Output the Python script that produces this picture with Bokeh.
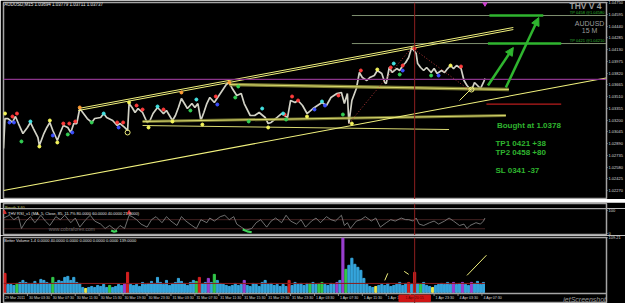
from bokeh.plotting import figure
from bokeh.layouts import column
from bokeh.models import (Range1d, FixedTicker, Span, Arrow, NormalHead, Label,
                          NumeralTickFormatter)
from bokeh.embed import file_html
from bokeh.resources import INLINE
from bokeh.core.properties import value

FONT = "Liberation Sans"

# ---------------- data ----------------
header_text = "AUDUSD,M15  1.03694 1.03779 1.03711 1.03737"
breath_text = "Breath 3.60"
rsi_text = "THV RSI_v1 (MA, 5, Close, 85, 11.7% 80.0000 60.0000 40.0000 21.0000)"
rsi_watermark = "www.cobraforex.com"
vol_text = "Better Volume 1.4  0.0000 40.0000 0.0000 0.0000 0.0000 0.0000 139.0000"
watermark = "jetScreenshot"

# (M15 bar number, price)  bar 0 = 29 Mar 23:45
close_points = [
    (-1, 1.02824), (0, 1.03220), (2, 1.03220), (5, 1.03168), (7, 1.03247), (9, 1.03154),
    (12, 1.03022), (13, 1.03049), (15, 1.03102), (17, 1.03168), (19, 1.03088), (22, 1.02970),
    (23, 1.02864), (26, 1.03022), (28, 1.03102), (30, 1.03168), (32, 1.03062), (35, 1.02930),
    (37, 1.03036), (39, 1.03128), (42, 1.03102), (44, 1.03036), (46, 1.03154), (48, 1.03154),
    (50, 1.03352), (52, 1.03300), (55, 1.03220), (58, 1.03168), (60, 1.03220), (64, 1.03234),
    (66, 1.03286), (68, 1.03234), (72, 1.03194), (75, 1.03128), (77, 1.03154), (80, 1.03102),
    (82, 1.03062), (83, 1.03418), (85, 1.03366), (87, 1.03300), (89, 1.03352), (92, 1.03300),
    (95, 1.03168), (97, 1.03194), (99, 1.03286), (102, 1.03366), (104, 1.03326), (106, 1.03286),
    (108, 1.03326), (112, 1.03194), (114, 1.03260), (116, 1.03366), (118, 1.03484), (120, 1.03418),
    (122, 1.03352), (125, 1.03418), (127, 1.03366), (129, 1.03418), (131, 1.03194), (133, 1.03300),
    (135, 1.03418), (137, 1.03498), (140, 1.03432), (144, 1.03550), (148, 1.03669), (150, 1.03696),
    (152, 1.03616), (155, 1.03524), (158, 1.03550), (160, 1.03418), (164, 1.03260), (167, 1.03260),
    (170, 1.03300), (174, 1.03234), (176, 1.03154), (178, 1.03168), (182, 1.03234), (185, 1.03286),
    (187, 1.03260), (189, 1.03234), (191, 1.03458), (194, 1.03432), (196, 1.03458), (199, 1.03392),
    (202, 1.03286), (206, 1.03352), (209, 1.03392), (212, 1.03432), (215, 1.03392), (218, 1.03498),
    (222, 1.03550), (225, 1.03564), (227, 1.03418), (229, 1.03550), (230, 1.03154), (232, 1.03458),
    (235, 1.03616), (237, 1.03828), (239, 1.03762), (242, 1.03722), (244, 1.03762), (247, 1.03788),
    (249, 1.03854), (252, 1.03814), (254, 1.03696), (255, 1.03682), (257, 1.03894), (259, 1.03828),
    (262, 1.03880), (264, 1.03854), (266, 1.03920), (268, 1.03960), (270, 1.04026), (272, 1.04158),
    (275, 1.04078), (276, 1.03946), (278, 1.03894), (280, 1.03854), (282, 1.03894), (285, 1.03828),
    (287, 1.03880), (289, 1.03814), (292, 1.03854), (294, 1.03828), (296, 1.03880), (298, 1.03920),
    (300, 1.03880), (302, 1.03920), (305, 1.03880), (307, 1.03722), (309, 1.03656), (312, 1.03590),
    (314, 1.03696), (316, 1.03656), (318, 1.03616), (320, 1.03696), (321, 1.03748),
]

time_labels = ["29 Mar 2011", "30 Mar 03:30", "30 Mar 07:30", "30 Mar 11:30", "30 Mar 15:30",
               "30 Mar 19:30", "30 Mar 23:30", "31 Mar 03:30", "31 Mar 07:30", "31 Mar 11:30",
               "31 Mar 15:30", "31 Mar 19:30", "31 Mar 23:30", "1 Apr 03:30", "1 Apr 07:30",
               "1 Apr 11:30", "1 Apr 15:30", "1 Apr 19:30", "1 Apr 23:30", "4 Apr 03:30",
               "4 Apr 07:30"]
bars_per_label = 16

price_ticks = [1.04750, 1.04595, 1.04440, 1.04285, 1.04130, 1.03975, 1.03820, 1.03665,
               1.03510, 1.03355, 1.03200, 1.03045, 1.02890, 1.02735, 1.02580, 1.02425, 1.02270]

bid_price = 1.03737
box_price = 1.03841
tp1_price = 1.0421
tp2_price = 1.0458
sl_price = 1.0341
marker_bar = 274
marker_time = "1 Apr 20:15"

trade_notes = ["Bought at 1.0378", "TP1 0421 +38", "TP2 0458 +80", "SL 0341 -37"]
tp_labels = ["TP 0458 @1.04580", "TP 0421 @1.04210"]
logo_lines = ["THV V 4", "AUDUSD", "15 M"]

# trend lines (bar, price)
upper_a_x, upper_a_y = [49, 340], [1.03352, 1.04422]
upper_b_x, upper_b_y = [49, 340], [1.03326, 1.04395]
lower_x, lower_y = [-1, 402], [1.02270, 1.03755]
supp_top_x, supp_top_y = [150, 337], [1.03669, 1.03603]
supp_mid_x, supp_mid_y = [92, 335], [1.03181, 1.03260]
supp_low_x, supp_low_y = [92, 297], [1.03128, 1.03075]
short_x, short_y = [304, 312], [1.03458, 1.03616]
zig_x, zig_y = [230, 272, 311], [1.03154, 1.04158, 1.03590]
sl_x = [322, 372]
tp_thin_x = [232, 402]
tp2_thick_x = [324, 360]
tp1_thick_x = [323, 372]
arrow1 = (323, 1.03656, 340, 1.04158)
arrow2 = (335, 1.03630, 357, 1.04554)

frac_red = [(5, 1.03247), (8, 1.03286), (39, 1.03154), (43, 1.03154), (47, 1.03181), (75, 1.03168),
            (79, 1.03168), (88, 1.03392), (92, 1.03339), (106, 1.03339), (141, 1.03511), (187, 1.03273),
            (192, 1.03511), (196, 1.03458), (223, 1.03524), (238, 1.03854), (258, 1.03894),
            (266, 1.03920), (274, 1.04144), (305, 1.03907)]
frac_blue = [(3, 1.03168), (6, 1.03168), (32, 1.02996), (45, 1.03036), (76, 1.03102), (142, 1.03405),
             (207, 1.03339), (214, 1.03392), (266, 1.03854), (290, 1.03788)]
frac_cyan = [(17, 1.03181), (66, 1.03286), (102, 1.03379), (128, 1.03471), (172, 1.03352),
             (186, 1.03286), (212, 1.03445), (260, 1.03946)]
frac_green = [(11, 1.02917), (42, 1.03010), (58, 1.03168), (124, 1.03326), (154, 1.03498),
              (156, 1.03643), (163, 1.03181), (188, 1.03207), (226, 1.03273), (264, 1.03801), (285, 1.03788)]
frac_yellow = [(0, 1.03286), (23, 1.02851), (30, 1.03194), (35, 1.02904), (83, 1.03432), (96, 1.03102),
               (112, 1.03181), (132, 1.03141), (176, 1.03102), (202, 1.03247), (232, 1.03154),
               (249, 1.03867), (298, 1.03920)]
frac_orange = [(50, 1.03366), (118, 1.03564), (150, 1.03696)]
ring_points = [(82, 1.03036), (312, 1.03603)]

# RSI (bar, value)
rsi_points = [
    (-1, 67), (3, 79), (6, 60), (9, 73), (11, 22), (14, 54), (17, 73), (20, 47), (24, 79), (27, 54),
    (30, 35), (34, 73), (37, 60), (40, 79), (44, 47), (47, 67), (50, 28), (54, 60), (57, 79), (60, 54),
    (64, 41), (67, 22), (70, 35), (74, 15), (77, 35), (80, 22), (83, 79), (85, 73), (88, 60), (91, 41),
    (95, 28), (98, 60), (101, 73), (105, 47), (108, 73), (111, 54), (115, 35), (118, 73), (121, 54),
    (125, 35), (128, 22), (131, 60), (135, 47), (137, 67), (140, 54), (144, 73), (147, 79), (150, 60),
    (153, 73), (155, 41), (158, 28), (161, 15), (165, 22), (168, 47), (171, 60), (175, 28), (178, 54),
    (181, 67), (185, 47), (188, 79), (191, 54), (195, 41), (198, 60), (201, 28), (205, 54), (208, 67),
    (211, 47), (215, 73), (218, 60), (221, 54), (225, 79), (227, 35), (229, 47), (231, 22), (235, 54),
    (238, 60), (241, 73), (245, 54), (248, 67), (251, 28), (255, 47), (258, 60), (261, 54), (265, 67),
    (268, 60), (270, 60), (273, 54), (275, 67), (277, 41), (280, 35), (284, 47), (287, 54), (290, 41),
    (294, 54), (297, 67), (300, 54), (304, 35), (307, 41), (309, 22), (311, 35), (315, 47), (318, 41),
    (320, 54), (321, 67),
]
rsi_levels = [60, 21]
rsi_signal_a = [(71, 14), (73, 8), (75, 12)]
rsi_signal_b = [(159, 18), (162, 10), (165, 6)]
rsi_arrows = [(-0.5, 92), (83, 90)]

# volume, one bar every 2 M15 bars starting at bar 0
volume = [38, 16, 16, 14, 18, 20, 24, 20, 18, 18,
          22, 16, 26, 24, 20, 18, 30, 20, 24, 22,
          30, 32, 24, 30, 20, 18, 10, 8, 10, 12,
          10, 14, 12, 16, 10, 14, 10, 12, 16, 14,
          18, 40, 16, 14, 16, 12, 20, 16, 18, 22,
          18, 30, 20, 16, 24, 14, 18, 20, 28, 22,
          18, 14, 20, 24, 22, 30, 18, 20, 28, 20,
          36, 24, 18, 16, 14, 12, 14, 18, 14, 16,
          24, 14, 12, 18, 16, 12, 20, 24, 16, 18,
          14, 16, 12, 16, 12, 24, 14, 20, 16, 18,
          14, 18, 18, 20, 16, 18, 20, 16, 14, 18,
          16, 20, 24, 108, 46, 54, 68, 56, 50, 44,
          28, 16, 12, 10, 12, 14, 16, 14, 18, 12,
          14, 16, 20, 14, 18, 20, 16, 40, 18, 16,
          20, 14, 12, 10, 14, 16, 18, 16, 20, 16,
          20, 16, 18, 20, 16, 14, 20, 18, 22, 16,
          20]
vol_step = 2
vol_kind = {0: "climax", 4: "churn", 16: "churn", 27: "low", 35: "churn", 40: "both", 41: "climax",
            64: "churn", 65: "climax", 68: "both", 70: "churn", 80: "both", 95: "climax",
            102: "churn", 105: "churn", 106: "churn", 111: "both", 113: "both", 114: "churn",
            124: "low", 135: "climax", 137: "climax", 139: "churn", 143: "low", 150: "both",
            153: "both", 156: "both"}
vol_average = 18
vol_top_label = 109.21
vol_trend_1 = [(254, 24), (256, 38)]
vol_trend_2 = [(267, 42), (270, 36)]
vol_trend_3 = [(309, 34), (322, 74)]

# ---------------- styling ----------------
BG = "black"
FRAME = "#a4a4a4"
AXTXT = "#dcdcdc"
YEL = "#f2f27e"
OLIVE = "#8c8c3a"
GREEN = "#2fb52f"
KIND_COLORS = {"normal": "#35a5dc", "climax": "#d42020", "churn": "#32c84a",
               "low": "#e8e84a", "both": "#9b3fd0"}

xr = Range1d(-1, 402.3)


def panel(height, yr, top, bottom):
    f = figure(width=625, height=height, x_range=xr, y_range=yr,
               y_axis_location="right", x_axis_location=None,
               output_backend="svg", toolbar_location=None,
               background_fill_color=BG, border_fill_color=BG,
               outline_line_color=FRAME, outline_line_width=1.5,
               min_border_left=3, min_border_right=17,
               min_border_top=top, min_border_bottom=bottom)
    f.grid.visible = False
    ax = f.yaxis[0]
    ax.axis_line_color = FRAME
    ax.major_tick_line_color = FRAME
    ax.major_tick_out = 1
    ax.major_tick_in = 0
    ax.minor_tick_line_color = None
    ax.major_label_text_color = AXTXT
    ax.major_label_text_font = FONT
    ax.major_label_text_font_size = "4px"
    ax.major_label_standoff = 1
    return f


# ---------------- main price panel ----------------
main = panel(199, Range1d(1.02151, 1.04752), 2, 0)
main.yaxis[0].ticker = FixedTicker(ticks=price_ticks)
main.yaxis[0].formatter = NumeralTickFormatter(format="0.00000")

bars = [b for b, _ in close_points]
closes = [c for _, c in close_points]

main.add_layout(Span(location=bid_price, dimension="width", line_color="#8a348a", line_width=1.2))
main.add_layout(Span(location=marker_bar, dimension="height", line_color="#8e1f1f", line_width=1))

for lvl in (tp1_price, tp2_price):
    main.line(tp_thin_x, [lvl, lvl], line_color="#7f9070", line_width=1)

main.line(bars, closes, line_color="#d2d2c6", line_width=1.7)

main.line(supp_top_x, supp_top_y, line_color=OLIVE, line_width=3.5, line_alpha=0.9)
main.line(supp_top_x, supp_top_y, line_color=YEL, line_width=0.8)
main.line(supp_mid_x, supp_mid_y, line_color=OLIVE, line_width=3, line_alpha=0.8)
main.line(supp_mid_x, supp_mid_y, line_color=YEL, line_width=0.8)
main.line(supp_low_x, supp_low_y, line_color=YEL, line_width=0.9)
main.line(upper_a_x, upper_a_y, line_color=YEL, line_width=1)
main.line(upper_b_x, upper_b_y, line_color=YEL, line_width=1)
main.line(lower_x, lower_y, line_color=YEL, line_width=1.1)
main.line(short_x, short_y, line_color=YEL, line_width=1)
main.line(zig_x, zig_y, line_color="#b83a3a", line_width=1, line_dash="1 2")
main.line(sl_x, [sl_price, sl_price], line_color="#b81c1c", line_width=1.2)
main.line(tp2_thick_x, [tp2_price, tp2_price], line_color=GREEN, line_width=2.5)
main.line(tp1_thick_x, [tp1_price, tp1_price], line_color=GREEN, line_width=2.5)

for a in (arrow1, arrow2):
    main.add_layout(Arrow(end=NormalHead(size=8, fill_color=GREEN, line_color=GREEN),
                          x_start=a[0], y_start=a[1], x_end=a[2], y_end=a[3],
                          line_color=GREEN, line_width=2.5))

for pts, col in ((frac_red, "#ff3c3c"), (frac_blue, "#3c50ff"), (frac_cyan, "#45e3e3"),
                 (frac_green, "#34d054"), (frac_yellow, "#f6f65c"), (frac_orange, "#ff9c34")):
    main.scatter([p[0] for p in pts], [p[1] for p in pts], size=3, color=col)
main.scatter([p[0] for p in ring_points], [p[1] for p in ring_points], size=5,
             fill_color=None, line_color=YEL, line_width=1)
main.scatter([321], [1.0474], marker="inverted_triangle", size=5, color="#d040d0")

main.text(x=[-0.5], y=[1.04722], text=[header_text], text_font=value(FONT),
          text_font_size="4.5px", text_color="#e6e6e6", text_baseline="middle")
main.text(x=[329, 328, 328, 328], y=[1.03128, 1.02890, 1.02772, 1.02534], text=trade_notes,
          text_font=value(FONT), text_font_size="8px", text_font_style="bold",
          text_color=GREEN, text_baseline="middle")
main.text(x=[401, 401], y=[1.04622, 1.04250], text=tp_labels, text_font=value(FONT),
          text_font_size="4px", text_color=GREEN, text_align="right", text_baseline="middle")
main.text(x=[399], y=[1.04705], text=[logo_lines[0]], text_font=value(FONT),
          text_font_size="8.5px", text_font_style="bold", text_color="#9c9c9c",
          text_align="right", text_baseline="middle")
main.text(x=[391, 391], y=[1.04481, 1.04382], text=logo_lines[1:], text_font=value(FONT),
          text_font_size="7px", text_color="#9c9c9c", text_align="center", text_baseline="middle")
main.add_layout(Label(x=402.3, y=box_price, text="1.03737", text_font=FONT, text_font_size="4px",
                      text_color="black", background_fill_color="white", text_baseline="middle",
                      x_offset=1))

# ---------------- breath strip ----------------
breath = panel(9, Range1d(0, 1), 1, 0)
breath.yaxis[0].ticker = FixedTicker(ticks=[])
breath.text(x=[0], y=[0.5], text=[breath_text], text_font=value(FONT), text_font_size="3.8px",
            text_color="#caca6a", text_baseline="middle")
breath.add_layout(Span(location=marker_bar, dimension="height", line_color="#8e1f1f", line_width=1))

# ---------------- RSI panel ----------------
rsi = panel(27, Range1d(-8, 108), 0, 0)
rsi.yaxis[0].ticker = FixedTicker(ticks=[100, 0])
for lvl in rsi_levels:
    rsi.line([-1, 321], [lvl, lvl], line_color="#a85454", line_width=0.8, line_dash="1 1")
rsi.line([p[0] for p in rsi_points], [p[1] for p in rsi_points], line_color="#8c8c8c", line_width=0.8)
for sig in (rsi_signal_a, rsi_signal_b):
    rsi.line([p[0] for p in sig], [p[1] for p in sig], line_color="#3ed35a", line_width=2.2)
rsi.scatter([p[0] for p in rsi_arrows], [p[1] for p in rsi_arrows], marker="triangle", size=4,
            color="#d83030")
rsi.add_layout(Span(location=marker_bar, dimension="height", line_color="#8e1f1f", line_width=1))
rsi.text(x=[2], y=[85], text=[rsi_text], text_font=value(FONT), text_font_size="4px",
         text_color="#e0e0e0", text_baseline="middle")
rsi.text(x=[44.7], y=[18], text=[rsi_watermark], text_font=value(FONT), text_font_size="5px",
         text_color="#6e6e6e", text_align="center", text_baseline="middle")

# ---------------- volume panel + time strip ----------------
vol_unit_per_px = vol_top_label / 55.0
volf = panel(68, Range1d(-11 * vol_unit_per_px, vol_top_label), 2, 0)
volf.yaxis[0].ticker = FixedTicker(ticks=[vol_top_label])
vol_x = [i * vol_step for i in range(len(volume))]
vol_colors = [KIND_COLORS[vol_kind.get(i, "normal")] for i in range(len(volume))]
volf.vbar(x=vol_x, top=volume, width=1.4, color=vol_colors)
volf.line([-1, 321], [vol_average, vol_average], line_color="#8c1c1c", line_width=1)
for seg in (vol_trend_1, vol_trend_2, vol_trend_3):
    volf.line([p[0] for p in seg], [p[1] for p in seg], line_color=YEL, line_width=1)
volf.add_layout(Span(location=marker_bar, dimension="height", line_color="#8e1f1f", line_width=1))
volf.add_layout(Span(location=-0.9 * vol_unit_per_px, dimension="width", line_color=FRAME,
                     line_width=1.5))
volf.text(x=[-0.5], y=[104], text=[vol_text], text_font=value(FONT), text_font_size="4px",
          text_color="#e0e0e0", text_baseline="middle")

label_bars = [-1 + bars_per_label * k for k in range(len(time_labels))]
strip_y = -5.8 * vol_unit_per_px
volf.text(x=[b + 1 for b in label_bars], y=[strip_y] * len(label_bars), text=time_labels,
          text_font=value(FONT), text_font_size="3.6px", text_color=AXTXT,
          text_baseline="middle")
volf.segment(x0=label_bars, y0=[-1.5 * vol_unit_per_px] * len(label_bars),
             x1=label_bars, y1=[-3.5 * vol_unit_per_px] * len(label_bars),
             line_color=AXTXT, line_width=0.6)
volf.rect(x=[marker_bar], y=[strip_y], width=[21], height=[6.5 * vol_unit_per_px],
          color="#d01414")
volf.text(x=[marker_bar], y=[strip_y], text=[marker_time], text_font=value(FONT),
          text_font_size="3.6px", text_color="#5a0000", text_align="center",
          text_baseline="middle")
volf.text(x=[402], y=[-6.5 * vol_unit_per_px], text=[watermark], text_font=value(FONT),
          text_font_size="7px", text_font_style="italic", text_color="#9a9a9a",
          text_align="right", text_baseline="middle")

layout = column(main, breath, rsi, volf, spacing=0)
open("out.html", "w").write(file_html(layout, INLINE))
